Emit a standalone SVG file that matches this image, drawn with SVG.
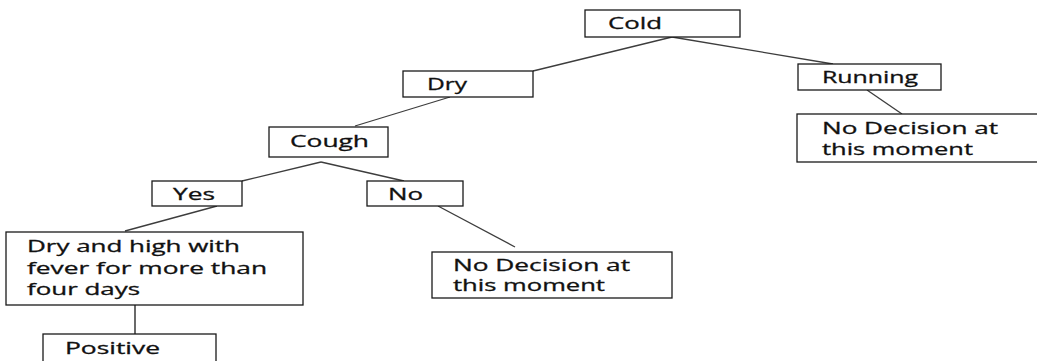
<svg xmlns="http://www.w3.org/2000/svg" width="1037" height="361" viewBox="0 0 1037 361">
  <style>
    .box { fill: #ffffff; stroke: #1a1a1a; stroke-width: 1.3; }
    .edge { stroke: #3d3d3d; stroke-width: 1.3; fill: none; }
    text { font-family: "Open Sans", "Liberation Sans", sans-serif; font-size: 16px; fill: #111111; stroke: #111111; stroke-width: 0.3; }
  </style>
  <rect width="1037" height="361" fill="#ffffff"/>

  <g id="connectors">
    <line class="edge" x1="672" y1="37" x2="533" y2="71"/>
    <line class="edge" x1="672" y1="37" x2="833" y2="64"/>
    <line class="edge" x1="867" y1="90" x2="902" y2="114"/>
    <line class="edge" x1="450" y1="97" x2="355" y2="126"/>
    <line class="edge" x1="321" y1="162" x2="242" y2="181"/>
    <line class="edge" x1="321" y1="162" x2="404" y2="181"/>
    <line class="edge" x1="217" y1="206" x2="125" y2="231"/>
    <line class="edge" x1="438" y1="206" x2="515" y2="247"/>
    <line x1="135" y1="305" x2="135" y2="334" stroke="#1a1a1a" stroke-width="1.3"/>
  </g>

  <g id="cold">
    <rect class="box" x="585" y="10" width="155" height="27"/>
    <text x="608" y="29" textLength="54" lengthAdjust="spacingAndGlyphs">Cold</text>
  </g>

  <g id="dry">
    <rect class="box" x="403" y="71" width="130" height="26"/>
    <text x="427" y="90" textLength="40" lengthAdjust="spacingAndGlyphs">Dry</text>
  </g>

  <g id="running">
    <rect class="box" x="798" y="64" width="143" height="26"/>
    <text x="822" y="83" textLength="96" lengthAdjust="spacingAndGlyphs">Running</text>
  </g>

  <g id="no-decision-running">
    <rect class="box" x="797" y="114" width="260" height="48"/>
    <text x="822" y="134" textLength="176" lengthAdjust="spacingAndGlyphs">No Decision at</text>
    <text x="822" y="155" textLength="151" lengthAdjust="spacingAndGlyphs">this moment</text>
  </g>

  <g id="cough">
    <rect class="box" x="269" y="127" width="119" height="30"/>
    <text x="290" y="147" textLength="79" lengthAdjust="spacingAndGlyphs">Cough</text>
  </g>

  <g id="yes">
    <rect class="box" x="152" y="181" width="90" height="25"/>
    <text x="173" y="200" textLength="42" lengthAdjust="spacingAndGlyphs">Yes</text>
  </g>

  <g id="no">
    <rect class="box" x="367" y="181" width="96" height="25"/>
    <text x="388" y="200" textLength="35" lengthAdjust="spacingAndGlyphs">No</text>
  </g>

  <g id="fever">
    <rect class="box" x="6" y="232" width="297" height="73"/>
    <text x="27" y="252" textLength="213" lengthAdjust="spacingAndGlyphs">Dry and high with</text>
    <text x="27" y="274" textLength="240" lengthAdjust="spacingAndGlyphs">fever for more than</text>
    <text x="27" y="295" textLength="113" lengthAdjust="spacingAndGlyphs">four days</text>
  </g>

  <g id="no-decision-cough">
    <rect class="box" x="432" y="252" width="240" height="46"/>
    <text x="453" y="271" textLength="177" lengthAdjust="spacingAndGlyphs">No Decision at</text>
    <text x="453" y="291" textLength="152" lengthAdjust="spacingAndGlyphs">this moment</text>
  </g>

  <g id="positive">
    <rect class="box" x="43" y="334" width="173" height="40"/>
    <text x="65" y="354" textLength="95" lengthAdjust="spacingAndGlyphs">Positive</text>
  </g>
</svg>
